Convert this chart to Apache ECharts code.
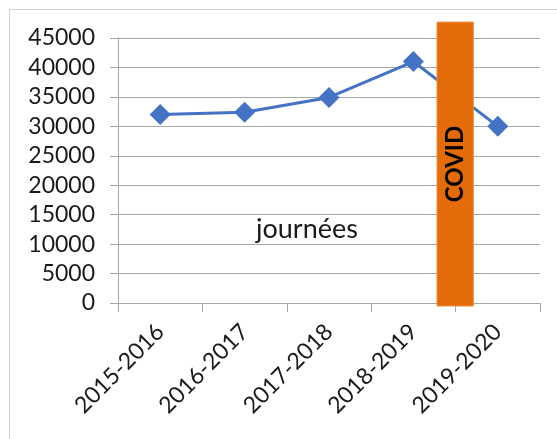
<!DOCTYPE html>
<html>
<head>
<meta charset="utf-8">
<script src="https://cdn.jsdelivr.net/npm/echarts@6/dist/echarts.min.js"></script>
<style>
  html, body { margin: 0; padding: 0; background: #fff; }
  #main { width: 557px; height: 439px; }
</style>
</head>
<body>
<div id="main"></div>
<script>
// saisons et nombre de journées
const seasons = ['2015-2016', '2016-2017', '2017-2018', '2018-2019', '2019-2020'];
const journees = [32000, 32400, 34900, 41000, 30000];
const yTicks = { min: 0, max: 45000, interval: 5000 };

// bandeau COVID (position en index de catégorie, hauteur en valeur)
const covidSpan = [3.28, 3.71];
const covidRange = [-500, 47700];
const covidText = 'COVID';

const font = 'Lato';

// index de catégorie fractionnaire -> pixel, via l'axe
function catX(api, v) {
    const i = Math.floor(v);
    const a = api.coord([i, 0])[0];
    const b = api.coord([i + 1, 0])[0];
    return a + (v - i) * (b - a);
}

const chart = echarts.init(document.getElementById('main'));

const option = {
    animation: false,
    backgroundColor: '#fff',
    textStyle: { fontFamily: font },
    graphic: [
        {
            type: 'rect',
            shape: { x: 9.5, y: 9.5, width: 600, height: 500 },
            style: { fill: 'none', stroke: '#d0d0d0', lineWidth: 1 },
            silent: true
        }
    ],
    legend: {
        data: ['journées'],
        icon: 'none',
        left: 246,
        top: 211,
        itemWidth: 0,
        textStyle: { fontSize: 27, color: '#1a1a1a', fontFamily: font }
    },
    grid: { left: 118, right: 17, top: 38, bottom: 136 },
    xAxis: {
        type: 'category',
        data: seasons,
        boundaryGap: true,
        axisLine: { lineStyle: { color: '#a6a6a6', width: 1 } },
        axisTick: { show: true, length: 9, lineStyle: { color: '#a6a6a6' } },
        splitLine: { show: false },
        axisLabel: {
            rotate: 45,
            margin: 25,
            fontSize: 23,
            color: '#1a1a1a',
            fontFamily: font,
            interval: 0
        }
    },
    yAxis: {
        type: 'value',
        min: yTicks.min,
        max: yTicks.max,
        interval: yTicks.interval,
        axisLine: { show: true, lineStyle: { color: '#a6a6a6' } },
        axisTick: { show: true, length: 8, lineStyle: { color: '#a6a6a6' } },
        axisLabel: {
            margin: 23,
            fontSize: 23,
            color: '#1a1a1a',
            fontFamily: font,
            formatter: function (v) { return String(v); }
        },
        splitLine: { lineStyle: { color: '#a6a6a6', width: 1 } }
    },
    series: [
        {
            name: 'journées',
            type: 'line',
            data: journees,
            symbol: 'diamond',
            symbolSize: 21,
            lineStyle: { color: '#4472C4', width: 3 },
            itemStyle: { color: '#4472C4' },
            z: 2
        },
        {
            name: 'COVID',
            type: 'custom',
            clip: false,
            z: 5,
            data: [[Math.floor(covidSpan[0]), covidRange[0], covidRange[1]]],
            encode: { x: 0, y: [1, 2] },
            renderItem: function (params, api) {
                const x1 = catX(api, covidSpan[0]);
                const x2 = catX(api, covidSpan[1]);
                const yTop = api.coord([0, covidRange[1]])[1];
                const yBot = api.coord([0, covidRange[0]])[1];
                return {
                    type: 'group',
                    children: [
                        {
                            type: 'rect',
                            shape: { x: x1, y: yTop, width: x2 - x1, height: yBot - yTop },
                            style: { fill: '#E36C09', stroke: '#F08a3c', lineWidth: 1 }
                        },
                        {
                            type: 'text',
                            x: (x1 + x2) / 2,
                            y: (yTop + yBot) / 2,
                            rotation: Math.PI / 2,
                            style: {
                                text: covidText,
                                fontSize: 24,
                                fontWeight: 'bold',
                                fontFamily: font,
                                fill: '#000',
                                align: 'center',
                                verticalAlign: 'middle'
                            }
                        }
                    ]
                };
            }
        }
    ]
};

chart.setOption(option);
</script>
</body>
</html>
